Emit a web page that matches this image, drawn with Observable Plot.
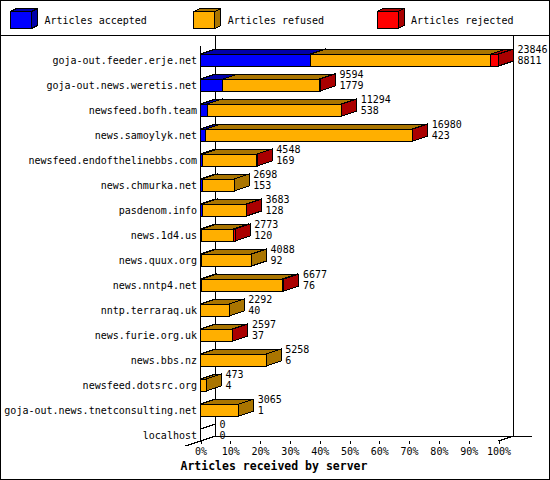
<!DOCTYPE html>
<html><head><meta charset="utf-8">
<script src="https://cdn.jsdelivr.net/npm/d3@7"></script>
<script src="https://cdn.jsdelivr.net/npm/@observablehq/plot@0.6"></script>
<style>
body{margin:0;background:#fff;}
#wrap{position:relative;width:550px;height:480px;background:#fff;overflow:hidden;font-family:"DejaVu Sans Mono",monospace;}
#legend{position:absolute;left:0;top:0;width:550px;height:35px;border-bottom:1px solid #000;}
#chart{position:absolute;left:0;top:36px;}
#frame{position:absolute;left:0;top:0;width:550px;height:480px;box-sizing:border-box;border:1px solid #000;pointer-events:none;}
</style></head>
<body>
<div id="wrap"><div id="legend"></div><div id="chart"></div><div id="frame"></div></div>
<script>
// ---- data ----
const hosts = ["goja-out.feeder.erje.net","goja-out.news.weretis.net","newsfeed.bofh.team","news.samoylyk.net","newsfeed.endofthelinebbs.com","news.chmurka.net","pasdenom.info","news.1d4.us","news.quux.org","news.nntp4.net","nntp.terraraq.uk","news.furie.org.uk","news.bbs.nz","newsfeed.dotsrc.org","goja-out.news.tnetconsulting.net","localhost"];
const totals   = [23846, 9594, 11294, 16980, 4548, 2698, 3683, 2773, 4088, 6677, 2292, 2597, 5258, 473, 3065, 0];
const accepted = [8811, 1779, 538, 423, 169, 153, 128, 120, 92, 76, 40, 37, 6, 4, 1, 0];
const refused  = [14415, 7735, 10706, 16527, 4329, 2545, 3525, 2503, 3996, 6491, 2252, 2520, 5252, 469, 3064, 0];
const rejected = [620, 80, 50, 30, 50, 0, 30, 150, 0, 110, 0, 40, 0, 0, 0, 0];
const seriesNames = ["Articles accepted", "Articles refused", "Articles rejected"];
const frontColors = ["#0000FF", "#FFAF00", "#FF0000"];
const darkColors  = ["#0000AA", "#AA7500", "#AA0000"];
const xTicks = [0, 10, 20, 30, 40, 50, 60, 70, 80, 90, 100];
const axisTitle = "Articles received by server";

// ---- derived table ----
const maxTotal = d3.max(totals);
const pct = v => v / maxTotal * 100;
const series = [accepted, refused, rejected];
const rows = [];
hosts.forEach((h, i) => {
  let c = 0;
  series.forEach((s, k) => {
    const v = s[i];
    if (v > 0 || (k === 0 && totals[i] === 0)) {
      rows.push({host: h, seg: k, x1: pct(c), x2: pct(c + v), empty: totals[i] === 0});
    }
    c += v;
  });
});
const labelRows = hosts.map((h, i) => ({host: h, total: totals[i], acc: accepted[i], x: pct(totals[i])}));

const DX = 15, DY = 5;
const pts = a => a.map(p => p.join(",")).join(" ");

function faces(k) {
  return (index, scales) => {
    const X = scales.x, Y = scales.y;
    const bw = typeof Y.bandwidth === "function" ? Y.bandwidth() : 12;
    const g = d3.create("svg:g");
    rows.filter(r => r.seg === k).forEach(r => {
      const x1 = X(r.x1), x2 = X(r.x2), yT = Y(r.host), yB = yT + bw;
      g.append("polygon").attr("points", pts([[x1, yT], [x1 + DX, yT - DY], [x2 + DX, yT - DY], [x2, yT]]))
        .attr("fill", r.empty ? "none" : darkColors[k]).attr("stroke", "#000");
      g.append("polygon").attr("points", pts([[x2, yT], [x2 + DX, yT - DY], [x2 + DX, yB - DY], [x2, yB]]))
        .attr("fill", r.empty ? "none" : darkColors[k]).attr("stroke", "#000");
    });
    return g.node();
  };
}

function frame(index, scales) {
  const X = scales.x, Y = scales.y;
  const bw = typeof Y.bandwidth === "function" ? Y.bandwidth() : 12;
  const x0 = X(0), x1 = X(100);
  const yF = Y(hosts[hosts.length - 1]) + bw;
  const yTop = Y(hosts[0]) - 8.5;
  const g = d3.create("svg:g").attr("stroke", "#000").attr("fill", "none");
  const line = (a, b) => g.append("line").attr("x1", a[0]).attr("y1", a[1]).attr("x2", b[0]).attr("y2", b[1]);
  line([x0 + DX, 0], [x0 + DX, yF - DY]);
  line([x1 + DX, 0], [x1 + DX, yF - DY]);
  line([x0 + DX, yF - DY], [x1 + DX + 18, yF - DY]);
  line([x0, yTop], [x0, yF]);
  line([x0 - DX, yF + DY], [x0 + DX, yF - DY]);
  line([x1, yF], [x1 + DX, yF - DY]);
  return g.node();
}

const marks = [frame];
[0, 1, 2].forEach(k => {
  marks.push(Plot.rectX(rows.filter(r => r.seg === k), {
    x1: "x1", x2: "x2", y: "host", fill: frontColors[k], stroke: "#000", strokeWidth: 1
  }));
  marks.push(faces(k));
});
marks.push(
  Plot.axisY({tickSize: 0, tickPadding: 4, fontSize: 10, label: null}),
  Plot.axisX({ticks: xTicks, tickFormat: d => d + "%", tickSize: 3, tickPadding: 4, fontSize: 10, label: null}),
  Plot.text(labelRows, {x: "x", y: "host", text: d => String(d.total), dx: 18.5, dy: -11, textAnchor: "start", fontSize: 10, fill: "#000"}),
  Plot.text(labelRows, {x: "x", y: "host", text: d => String(d.acc), dx: 18.5, dy: 0, textAnchor: "start", fontSize: 10, fill: "#000"}),
  Plot.text([axisTitle], {frameAnchor: "bottom-left", text: d => d, dx: -20.5, dy: 28.5, textAnchor: "start", fontWeight: "bold", fontSize: 11.5, fill: "#000"})
);

const chart = Plot.plot({
  width: 550, height: 444,
  marginLeft: 200.5, marginRight: 51.5, marginTop: 4.5, marginBottom: 39.5,
  x: {domain: [0, 100], range: [200.5, 498.5], label: null},
  y: {domain: hosts, range: [4.5, 417.5], padding: 0.52, label: null},
  style: {fontFamily: "'DejaVu Sans Mono', monospace", fontSize: "10px", background: "#fff", color: "#000", shapeRendering: "crispEdges"},
  marks
});
document.getElementById("chart").appendChild(chart);

// ---- legend (3D swatches) ----
const lg = d3.select("#legend").append("svg").attr("width", 550).attr("height", 35)
  .style("shape-rendering", "crispEdges");
seriesNames.forEach((name, k) => {
  const bx = 10.5 + k * 183.3, top = 11.5, w = 21, h = 17, ddx = 6, ddy = 3;
  const it = lg.append("g");
  it.append("rect").attr("x", bx).attr("y", top).attr("width", w).attr("height", h).attr("fill", frontColors[k]).attr("stroke", "#000");
  it.append("polygon").attr("points", pts([[bx, top], [bx + ddx, top - ddy], [bx + w + ddx, top - ddy], [bx + w, top]])).attr("fill", darkColors[k]).attr("stroke", "#000");
  it.append("polygon").attr("points", pts([[bx + w, top], [bx + w + ddx, top - ddy], [bx + w + ddx, top + h - ddy], [bx + w, top + h]])).attr("fill", darkColors[k]).attr("stroke", "#000");
  it.append("text").attr("x", bx + 34).attr("y", 20).attr("dy", "0.35em").attr("font-family", "'DejaVu Sans Mono', monospace").attr("font-size", 10).attr("fill", "#000").text(name);
});
</script>
</body></html>
